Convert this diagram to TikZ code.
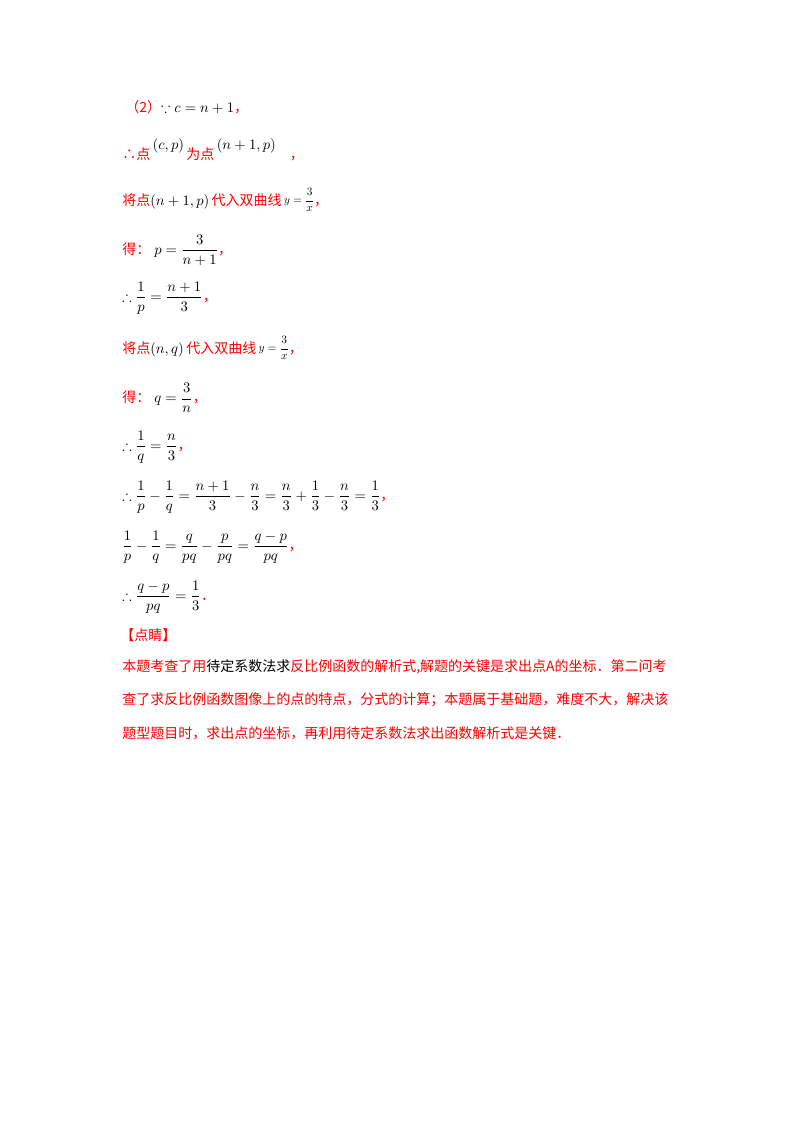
\documentclass[tikz,border=0pt]{standalone}
\usepackage{amsmath,amssymb,graphicx}
\usepackage{fontspec}
\newfontfamily\cjk{Noto Sans CJK SC}
\definecolor{rd}{RGB}{255,0,0}
\begin{document}
\begin{tikzpicture}[x=0.75pt,y=-0.75pt,
  ln/.style={anchor=west,inner sep=0pt,font=\cjk\fontsize{10.5}{12}\selectfont}]
\useasboundingbox (0,0) rectangle (800,1132);
\newcommand{\R}[1]{\textcolor{rd}{#1}}
\newcommand{\yfr}{\,\raisebox{0.3ex}{\scalebox{0.78}{$y=\dfrac{3}{x}$}}}
\node[ln] (l1) at (125,107) {\R{（2）}$\because c=n+1$\R{，}};
\node[ln] (l2) at (122,150) {\R{∴点}\,\raisebox{1.3ex}{$(c,p)$}\,\R{为点}\,\raisebox{1.3ex}{$(n+1,p)$}\quad\R{，}};
\node[ln] (l3) at (122,200) {\R{将点}$(n+1,p)$\,\R{代入双曲线}\yfr\R{，}};
\node[ln] (l4) at (122,250) {\R{得：}$\;p=\dfrac{3}{n+1}$\R{，}};
\node[ln] (l5) at (122,298) {$\therefore\dfrac{1}{p}=\dfrac{n+1}{3}$\R{，}};
\node[ln] (l6) at (122,348) {\R{将点}$(n,q)$\,\R{代入双曲线}\yfr\R{，}};
\node[ln] (l7) at (122,398) {\R{得：}$\;q=\dfrac{3}{n}$\R{，}};
\node[ln] (l8) at (122,447) {$\therefore\dfrac{1}{q}=\dfrac{n}{3}$\R{，}};
\node[ln] (l9) at (122,497) {$\therefore\dfrac{1}{p}-\dfrac{1}{q}=\dfrac{n+1}{3}-\dfrac{n}{3}=\dfrac{n}{3}+\dfrac{1}{3}-\dfrac{n}{3}=\dfrac{1}{3}$\R{，}};
\node[ln] (l10) at (122,547) {$\dfrac{1}{p}-\dfrac{1}{q}=\dfrac{q}{pq}-\dfrac{p}{pq}=\dfrac{q-p}{pq}$\R{，}};
\node[ln] (l11) at (122,597) {$\therefore\dfrac{q-p}{pq}=\dfrac{1}{3}$\R{．}};
\node[ln] (h) at (120,635) {\R{【点睛】}};
\node[ln] (p1) at (122,667) {\R{本题考查了用}待定系数法求\R{反比例函数的解析式,解题的关键是求出点A的坐标．第二问考}};
\node[ln] (p2) at (122,700) {\R{查了求反比例函数图像上的点的特点，分式的计算；本题属于基础题，难度不大，解决该}};
\node[ln] (p3) at (122,733) {\R{题型题目时，求出点的坐标，再利用待定系数法求出函数解析式是关键．}};
\end{tikzpicture}
\end{document}
